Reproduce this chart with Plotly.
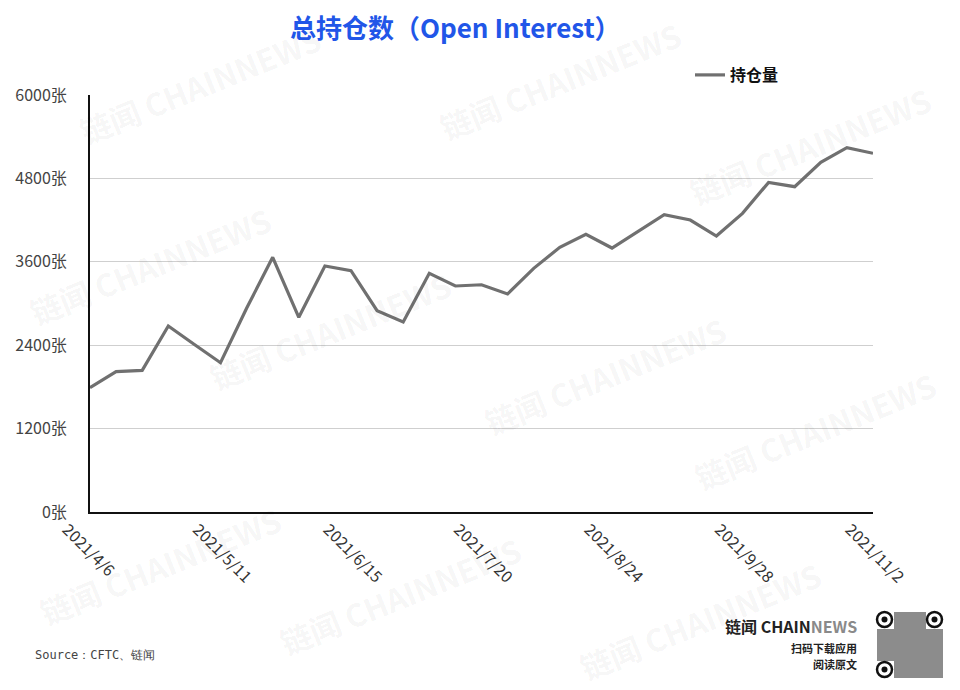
import plotly.graph_objects as go

dates = ["2021/4/6", "2021/4/13", "2021/4/20", "2021/4/27", "2021/5/4", "2021/5/11",
         "2021/5/18", "2021/5/25", "2021/6/1", "2021/6/8", "2021/6/15", "2021/6/22",
         "2021/6/29", "2021/7/6", "2021/7/13", "2021/7/20", "2021/7/27", "2021/8/3",
         "2021/8/10", "2021/8/17", "2021/8/24", "2021/8/31", "2021/9/7", "2021/9/14",
         "2021/9/21", "2021/9/28", "2021/10/5", "2021/10/12", "2021/10/19", "2021/10/26",
         "2021/11/2"]
open_interest = [1788, 2019, 2038, 2676, 2410, 2148, 2931, 3664, 2801, 3539, 3472,
                 2897, 2734, 3434, 3252, 3270, 3137, 3506, 3808, 3995, 3798, 4043,
                 4278, 4201, 3971, 4297, 4743, 4681, 5031, 5242, 5161]
tick_dates = ["2021/4/6", "2021/5/11", "2021/6/15", "2021/7/20", "2021/8/24", "2021/9/28", "2021/11/2"]
y_ticks = [0, 1200, 2400, 3600, 4800, 6000]
series_name = "持仓量"
title_text = "总持仓数（Open Interest）"
source_text = "Source：CFTC、链闻"

W, H = 960, 690
L, R, T, B = 90, 87, 95, 178

def ax(x):
    return (x - L) / (W - L - R)

def ay(y):
    return (H - B - y) / (H - T - B)

fig = go.Figure()
fig.add_trace(go.Scatter(
    x=dates, y=open_interest, mode="lines", name=series_name,
    line=dict(color="#707070", width=3.2),
))

annotations = []
# watermarks
wm = [(200, 85), (560, 80), (810, 145), (150, 265), (330, 330), (605, 375),
      (815, 430), (160, 565), (400, 595), (700, 620)]
for (x, y) in wm:
    annotations.append(dict(
        x=ax(x), y=ay(y), xref="paper", yref="paper", xanchor="center", yanchor="middle",
        text="链闻 CHAINNEWS", showarrow=False, textangle=-22,
        font=dict(family="Noto Sans CJK SC", size=31, color="rgba(0,0,0,0.05)", weight="bold"),
    ))

annotations += [
    dict(x=ax(455), y=ay(27), xref="paper", yref="paper", xanchor="center", yanchor="middle",
         text=title_text, showarrow=False,
         font=dict(family="Noto Sans CJK SC", size=26, color="#2156e8", weight="bold")),
    dict(x=ax(33), y=ay(655), xref="paper", yref="paper", xanchor="left", yanchor="middle",
         text=source_text, showarrow=False,
         font=dict(family="DejaVu Sans Mono", size=12, color="#444444")),
    dict(x=ax(859), y=ay(626), xref="paper", yref="paper", xanchor="right", yanchor="middle",
         text="<b>链闻 CHAIN</b><span style='color:#8a8a8a'><b>NEWS</b></span>", showarrow=False,
         font=dict(family="Noto Sans CJK SC", size=16, color="#222222")),
    dict(x=ax(859), y=ay(648), xref="paper", yref="paper", xanchor="right", yanchor="middle",
         text="<b>扫码下载应用</b>", showarrow=False,
         font=dict(family="Noto Sans CJK SC", size=11, color="#222222")),
    dict(x=ax(859), y=ay(664), xref="paper", yref="paper", xanchor="right", yanchor="middle",
         text="<b>阅读原文</b>", showarrow=False,
         font=dict(family="Noto Sans CJK SC", size=11, color="#222222")),
]

shapes = []
# QR code placeholder
qx0, qy0, qs = 877, 612, 66
shapes.append(dict(type="rect", xref="paper", yref="paper",
                   x0=ax(qx0), x1=ax(qx0 + qs), y0=ay(qy0 + qs), y1=ay(qy0),
                   fillcolor="#8c8c8c", line=dict(width=0), layer="above"))
for (fx, fy) in [(qx0, qy0), (qx0 + qs - 16, qy0), (qx0, qy0 + qs - 16)]:
    shapes.append(dict(type="rect", xref="paper", yref="paper",
                       x0=ax(fx - 1), x1=ax(fx + 17), y0=ay(fy + 17), y1=ay(fy - 1),
                       fillcolor="white", line=dict(width=0), layer="above"))
    shapes.append(dict(type="circle", xref="paper", yref="paper",
                       x0=ax(fx), x1=ax(fx + 15), y0=ay(fy + 15), y1=ay(fy),
                       fillcolor="white", line=dict(color="#111111", width=2.5), layer="above"))
    shapes.append(dict(type="circle", xref="paper", yref="paper",
                       x0=ax(fx + 4.5), x1=ax(fx + 10.5), y0=ay(fy + 10.5), y1=ay(fy + 4.5),
                       fillcolor="#111111", line=dict(width=0), layer="above"))

fig.update_layout(
    width=W, height=H,
    margin=dict(l=L, r=R, t=T, b=B),
    paper_bgcolor="white", plot_bgcolor="white",
    font=dict(family="Noto Sans CJK SC", color="#333333"),
    showlegend=True,
    legend=dict(x=ax(690), y=ay(75), xanchor="left", yanchor="middle",
                orientation="h", itemwidth=30, bgcolor="rgba(0,0,0,0)",
                font=dict(family="Noto Sans CJK SC", size=16, color="#111111", weight="bold")),
    annotations=annotations,
    shapes=shapes,
)
fig.update_xaxes(
    type="category", range=[0, len(dates) - 1],
    tickmode="array", tickvals=tick_dates, ticktext=tick_dates,
    tickangle=45, tickfont=dict(size=16, color="#333333"),
    ticklabelshift=-23, ticklabelstandoff=0,
    showgrid=False, showline=True, linecolor="#111111", linewidth=2,
    ticks="", zeroline=False,
)
fig.update_yaxes(
    range=[0, 6000], tickmode="array", tickvals=y_ticks,
    ticktext=[f"{v}张" for v in y_ticks],
    tickfont=dict(size=16, color="#444444"),
    showgrid=True, gridcolor="#cfcfcf", gridwidth=1,
    showline=True, linecolor="#111111", linewidth=2,
    zeroline=False, ticks="", ticklabelstandoff=18,
)

fig.write_html("out.html", config={"displayModeBar": False},
               post_script="document.body.style.margin='0px';")
